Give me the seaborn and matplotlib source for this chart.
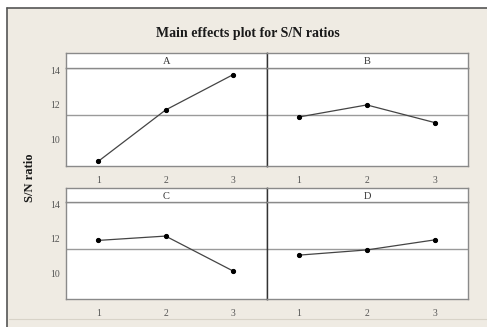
import numpy as np
import pandas as pd
import matplotlib
matplotlib.use("Agg")
import matplotlib.pyplot as plt
import seaborn as sns
from matplotlib.patches import Rectangle
from matplotlib.lines import Line2D

# dados (medias S/N por nivel)
fatores = ["A", "B", "C", "D"]
niveis = [1, 2, 3]
sn_A = [8.77, 11.71, 13.73]
sn_B = [11.31, 12.00, 10.99]
sn_C = [11.90, 12.15, 10.14]
sn_D = [11.05, 11.35, 11.93]
media_geral = 11.42
y_ticks = [10, 12, 14]

df = pd.DataFrame({
    "fator": np.repeat(fatores, len(niveis)),
    "nivel": niveis * len(fatores),
    "sn": sn_A + sn_B + sn_C + sn_D,
})

sns.set_style("white")
plt.rcParams["font.family"] = ["Liberation Serif", "DejaVu Serif"]

W, H = 487, 327
fig = plt.figure(figsize=(W / 100, H / 100), dpi=100)
fig.patch.set_facecolor("white")

bege = "#efebe3"
# moldura de fundo
fig.patches.append(Rectangle((7 / W, 0), 1, 1 - 8 / H, transform=fig.transFigure,
                             facecolor=bege, edgecolor="none", zorder=-10))
fig.lines.append(Line2D([7 / W, 1], [1 - 8 / H, 1 - 8 / H], transform=fig.transFigure,
                        color="#555555", lw=1.2))
fig.lines.append(Line2D([7 / W, 7 / W], [0, 1 - 8 / H], transform=fig.transFigure,
                        color="#555555", lw=1.2))
fig.lines.append(Line2D([9 / W, 1], [8 / H, 8 / H], transform=fig.transFigure,
                        color="#d8d3c8", lw=0.8))


def px(x0, y0, x1, y1):
    return [x0 / W, 1 - y1 / H, (x1 - x0) / W, (y1 - y0) / H]


# posicoes dos paineis em pixels (x0, y_cab, y_topo, y_base)
x_cols = [(66, 266.5), (266.5, 468.5)]
linhas = [(53.3, 68.3, 166), (188.3, 202.3, 299.3)]

for i, fator in enumerate(fatores):
    r, c = divmod(i, 2)
    x0, x1 = x_cols[c]
    yc, yt, yb = linhas[r]

    ax = fig.add_axes(px(x0, yt, x1, yb))
    ax.set_facecolor("white")
    ax.axhline(media_geral, color="#9a9a9a", lw=1.0, zorder=1)
    sns.lineplot(data=df[df["fator"] == fator], x="nivel", y="sn", ax=ax,
                 color="#444444", lw=0.9, marker="o", markersize=3,
                 markerfacecolor="black", markeredgecolor="black", zorder=3)
    ax.set_xlim(0.52, 3.5)
    ax.set_ylim(8.5, 14.1)
    ax.set_xticks(niveis)
    ax.set_xticklabels([str(n) for n in niveis])
    ax.set_yticks(y_ticks)
    ax.set_xlabel("")
    ax.set_ylabel("")
    ax.tick_params(axis="both", direction="out", length=3, width=0.7, colors="#777777",
                   labelsize=7, labelcolor="#555555", pad=1.5)
    ax.tick_params(axis="x", pad=4)
    if c == 1:
        ax.tick_params(axis="y", left=False, labelleft=False)
    for s in ax.spines.values():
        s.set_color("#8a8a8a")
        s.set_linewidth(1.0)
    if c == 0:
        ax.spines["right"].set_color("#333333")
    else:
        ax.spines["left"].set_color("#333333")
    ax.spines["top"].set_color("#9a9a9a")

    # cabecalho do painel
    hx = fig.add_axes(px(x0, yc, x1, yt))
    hx.set_facecolor("white")
    hx.set_xticks([])
    hx.set_yticks([])
    for s in hx.spines.values():
        s.set_color("#8a8a8a")
        s.set_linewidth(1.0)
    if c == 0:
        hx.spines["right"].set_color("#333333")
    else:
        hx.spines["left"].set_color("#333333")
    hx.text(0.5, 0.45, fator, ha="center", va="center", fontsize=7.5,
            color="#333333", transform=hx.transAxes)

fig.text(248 / W, 1 - 33 / H, "Main effects plot for S/N ratios", ha="center",
         va="center", fontsize=10, fontweight="bold", color="#1a1a1a")
fig.text(30 / W, 1 - 178 / H, "S/N ratio", ha="center", va="center", rotation=90,
         fontsize=9, fontweight="bold", color="#1a1a1a")

fig.savefig("out.png", dpi=100, facecolor=fig.get_facecolor())
